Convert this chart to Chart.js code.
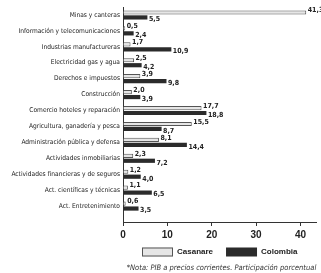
<!DOCTYPE html>
<html>
<head>
<meta charset="utf-8">
<script src="https://cdn.jsdelivr.net/npm/chart.js@4.4.0/dist/chart.umd.min.js"></script>
<style>
  html, body { margin: 0; padding: 0; background: #fff; }
  #wrap { width: 321px; height: 273px; }
</style>
</head>
<body>
<div id="wrap"><canvas id="pibChart"></canvas></div>
<script>
const sectores = [
    'Minas y canteras',
    'Información y telecomunicaciones',
    'Industrias manufactureras',
    'Electricidad gas y agua',
    'Derechos e impuestos',
    'Construcción',
    'Comercio hoteles y reparación',
    'Agricultura, ganadería y pesca',
    'Administración pública y defensa',
    'Actividades inmobiliarias',
    'Actividades financieras y de seguros',
    'Act. científicas y técnicas',
    'Act. Entretenimiento'
];
const casanare = [41.3, 0.5, 1.7, 2.5, 3.9, 2.0, 17.7, 15.5, 8.1, 2.3, 1.2, 1.1, 0.6];
const colombia = [5.5, 2.4, 10.9, 4.2, 9.8, 3.9, 18.8, 8.7, 14.4, 7.2, 4.0, 6.5, 3.5];
const xTicks = [0, 10, 20, 30, 40];
const nota = '*Nota: PIB a precios corrientes. Participación porcentual';

const narrow = '"Liberation Sans Narrow", "Arial Narrow", "DejaVu Sans Condensed", sans-serif';
const sans = '"Liberation Sans", Arial, sans-serif';

// etiquetas de valor al final de cada barra (coma decimal)
const valueLabels = {
    id: 'valueLabels',
    afterDatasetsDraw(chart) {
        const ctx = chart.ctx;
        ctx.save();
        ctx.font = 'bold 7px ' + narrow;
        ctx.fillStyle = '#222';
        ctx.textAlign = 'left';
        ctx.textBaseline = 'middle';
        chart.data.datasets.forEach((ds, di) => {
            const meta = chart.getDatasetMeta(di);
            meta.data.forEach((bar, i) => {
                const txt = ds.data[i].toFixed(1).replace('.', ',');
                const dy = di === 0 ? -2 : 2;
                ctx.fillText(txt, bar.x + 1.5, bar.y + dy);
            });
        });
        ctx.restore();
    }
};

// leyenda y nota debajo del eje, en el espacio del padding inferior
const leyendaNota = {
    id: 'leyendaNota',
    afterDraw(chart) {
        const ctx = chart.ctx;
        const area = chart.chartArea;
        const legendY = chart.height - 21;
        const boxW = 31, boxH = 9, gapText = 4, gapItem = 13;
        ctx.save();
        ctx.font = 'bold 8px ' + sans;
        let x = area.left + 19;
        chart.data.datasets.forEach(ds => {
            ctx.fillStyle = ds.backgroundColor;
            ctx.fillRect(x, legendY - boxH / 2, boxW, boxH);
            if (ds.borderWidth) {
                ctx.strokeStyle = ds.borderColor;
                ctx.lineWidth = 1;
                ctx.strokeRect(x + 0.5, legendY - boxH / 2 + 0.5, boxW - 1, boxH - 1);
            }
            ctx.fillStyle = '#222';
            ctx.textAlign = 'left';
            ctx.textBaseline = 'middle';
            ctx.fillText(ds.label, x + boxW + gapText, legendY);
            x += boxW + gapText + ctx.measureText(ds.label).width + gapItem;
        });
        ctx.font = 'italic 7.5px ' + narrow;
        ctx.fillStyle = '#333';
        ctx.textAlign = 'center';
        ctx.fillText(nota, area.left + (area.right - area.left) / 2 + 2, chart.height - 5);
        ctx.restore();
    }
};

new Chart(document.getElementById('pibChart'), {
    type: 'bar',
    data: {
        labels: sectores,
        datasets: [{
            label: 'Casanare',
            data: casanare,
            backgroundColor: '#e6e6e6',
            borderColor: '#555',
            borderWidth: 1,
            borderSkipped: 'start',
            categoryPercentage: 0.62,
            barPercentage: 0.85
        }, {
            label: 'Colombia',
            data: colombia,
            backgroundColor: '#2b2b2b',
            borderColor: '#2b2b2b',
            borderWidth: 0,
            categoryPercentage: 0.62,
            barPercentage: 0.85
        }]
    },
    options: {
        indexAxis: 'y',
        responsive: true,
        maintainAspectRatio: false,
        animation: false,
        layout: {
            padding: { top: 7, right: 5, bottom: 29, left: 0 }
        },
        plugins: {
            legend: { display: false },
            tooltip: { enabled: false }
        },
        scales: {
            x: {
                min: 0,
                max: 43.5,
                afterBuildTicks: scale => {
                    scale.ticks = xTicks.map(v => ({ value: v }));
                },
                ticks: {
                    color: '#222',
                    padding: 3,
                    font: { family: sans, size: 10, weight: 'bold' }
                },
                grid: {
                    drawOnChartArea: false,
                    tickLength: 4,
                    color: '#333'
                },
                border: { color: '#333', width: 1 }
            },
            y: {
                afterFit: scale => { scale.width = 123; },
                // medio espacio vacío bajo la última categoría, como en el original
                afterBuildTicks: scale => { scale._valueRange += 0.5; },
                ticks: {
                    color: '#222',
                    padding: 3,
                    autoSkip: false,
                    font: { family: narrow, size: 6.6 }
                },
                grid: {
                    drawOnChartArea: false,
                    drawTicks: false
                },
                border: { color: '#333', width: 1 }
            }
        }
    },
    plugins: [valueLabels, leyendaNota]
});
</script>
</body>
</html>
